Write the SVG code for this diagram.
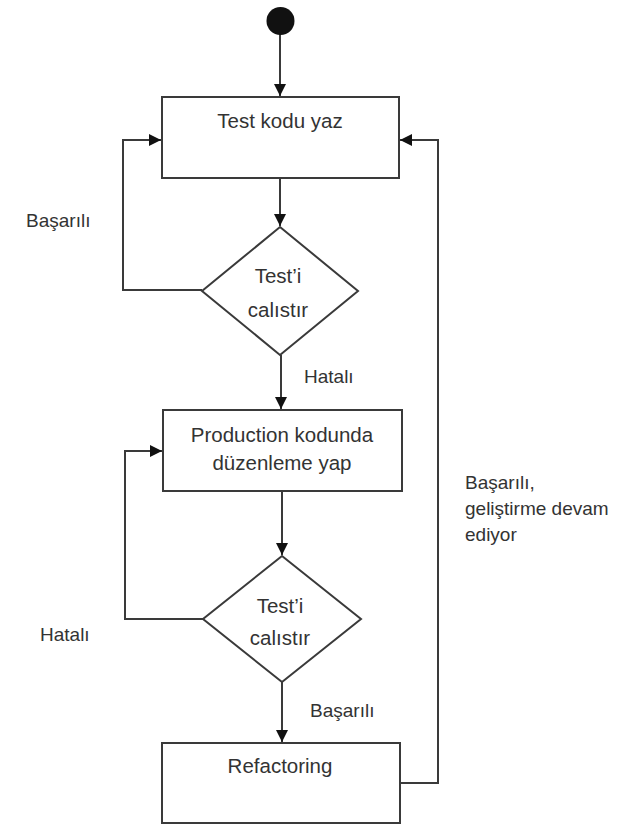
<svg xmlns="http://www.w3.org/2000/svg" width="630" height="824" viewBox="0 0 630 824">
<style>
.box{fill:#fff;stroke:#3a3a3a;stroke-width:2}
.t{font-family:"Liberation Sans",Arial,sans-serif;font-size:20.5px;fill:#333;text-anchor:middle}
.l{font-family:"Liberation Sans",Arial,sans-serif;font-size:19px;fill:#333}
.c{fill:none;stroke:#3a3a3a;stroke-width:2}
</style>
<defs>
<marker id="ah" markerUnits="userSpaceOnUse" markerWidth="12" markerHeight="12" viewBox="0 0 12 12" refX="12" refY="6" orient="auto">
<path d="M0,0 L12,6 L0,12 z" fill="#111"/>
</marker>
</defs>
<g id="connectors">
<path class="c" d="M280,34 V96" marker-end="url(#ah)"/>
<path class="c" d="M280,178 V226" marker-end="url(#ah)"/>
<path class="c" d="M202,290 H123 V140 H161" marker-end="url(#ah)"/>
<path class="c" d="M281,355 V409" marker-end="url(#ah)"/>
<path class="c" d="M282,491 V555" marker-end="url(#ah)"/>
<path class="c" d="M203,619 H125 V451 H162" marker-end="url(#ah)"/>
<path class="c" d="M282,682 V742" marker-end="url(#ah)"/>
<path class="c" d="M400,783 H438 V140 H400" marker-end="url(#ah)"/>
</g>
<g id="start"><circle cx="280.5" cy="21" r="14" fill="#111"/></g>
<g id="test-kodu-yaz">
<rect class="box" x="162" y="97" width="237" height="81"/>
<text class="t" x="280" y="128">Test kodu yaz</text>
</g>
<g id="decision1">
<polygon class="box" points="280,227 358,291 280,355 202,291"/>
<text class="t" x="278" y="283">Test’i</text>
<text class="t" x="278" y="317">calıstır</text>
</g>
<g id="production">
<rect class="box" x="163" y="410" width="239" height="81"/>
<text class="t" x="282" y="442">Production kodunda</text>
<text class="t" x="282" y="470">düzenleme yap</text>
</g>
<g id="decision2">
<polygon class="box" points="282,556 361,619 282,682 203,619"/>
<text class="t" x="280" y="613">Test’i</text>
<text class="t" x="280" y="645">calıstır</text>
</g>
<g id="refactoring">
<rect class="box" x="162" y="743" width="238" height="80"/>
<text class="t" x="280" y="773">Refactoring</text>
</g>
<g id="labels">
<text class="l" x="26" y="227">Başarılı</text>
<text class="l" x="304" y="383">Hatalı</text>
<text class="l" x="40" y="641">Hatalı</text>
<text class="l" x="310" y="717">Başarılı</text>
<text class="l" x="465" y="489">Başarılı,</text>
<text class="l" x="465" y="515">geliştirme devam</text>
<text class="l" x="465" y="541">ediyor</text>
</g>
</svg>
